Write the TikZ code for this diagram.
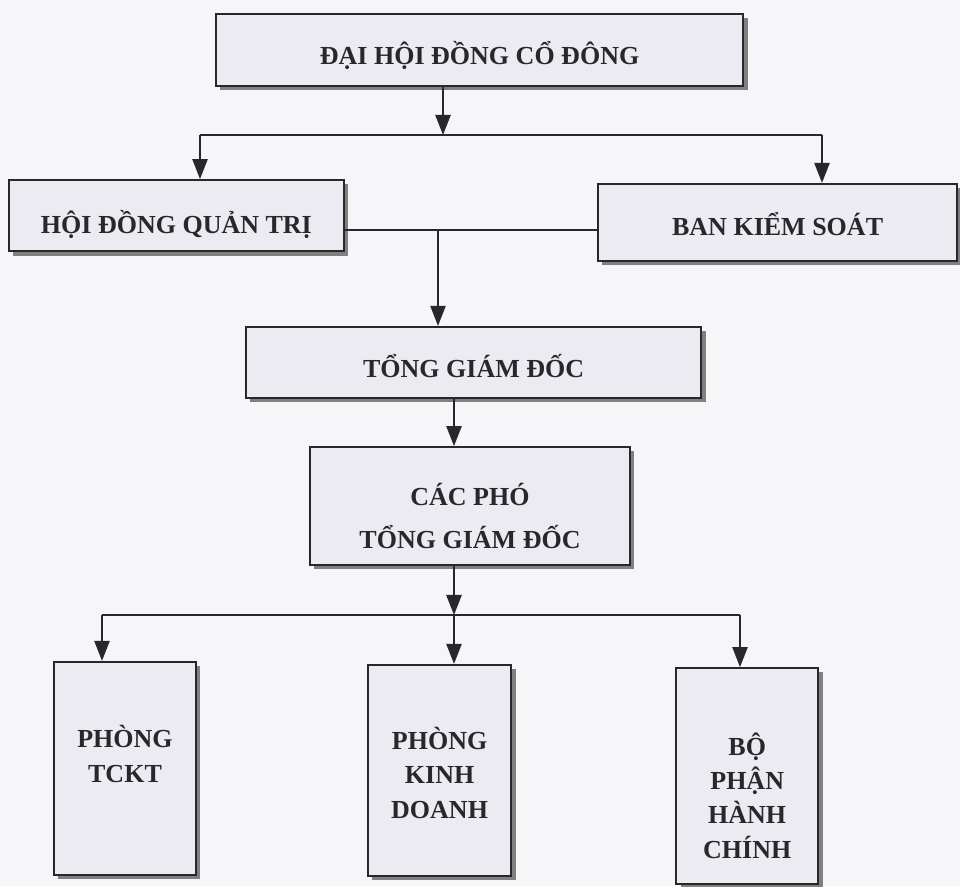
\documentclass[tikz,border=0pt]{standalone}
\usepackage{fontspec}
\setmainfont{Liberation Serif}
\usetikzlibrary{positioning}
\usetikzlibrary{arrows.meta}
\usetikzlibrary{shadows}
\definecolor{paper}{RGB}{246,246,248}
\definecolor{boxfill}{RGB}{236,235,242}
\definecolor{ink}{RGB}{40,40,44}
\tikzset{
box/.style={ % Sets the properties for each box
draw=ink,
line width=1.3pt,
fill=boxfill,
text=ink,
align=center,
inner sep=0pt,
font=\bfseries\fontsize{18.5}{24.5}\selectfont,
text height=0.74cm, text depth=0pt, % Puts the text a little below the middle
drop shadow={shadow xshift=0.11cm, shadow yshift=-0.11cm, fill=black!50, opacity=1}},
line/.style={ % Plain connector
draw=ink,
line width=1.3pt},
arr/.style={ % Connector with a filled head
line,
-{Triangle[length=0.5cm, width=0.38cm]}}}

\begin{document}
\begin{tikzpicture}
\fill[paper] (0,0) rectangle (24,22.15);
\useasboundingbox (0,0) rectangle (24,22.15);
% boxes
\node[box, minimum width=13.18cm, minimum height=1.80cm] (dhd) at (11.99,20.90) {ĐẠI HỘI ĐỒNG CỔ ĐÔNG};
\node[box, minimum width=8.38cm, minimum height=1.78cm, text height=0.88cm] (hdqt) at (4.41,16.76) {HỘI ĐỒNG QUẢN TRỊ};
\node[box, minimum width=8.98cm, minimum height=1.93cm, text height=0.68cm] (bks) at (19.44,16.59) {BAN KIỂM SOÁT};
\node[box, minimum width=11.38cm, minimum height=1.78cm] (tgd) at (11.84,13.09) {TỔNG GIÁM ĐỐC};
\node[box, minimum width=8.00cm, minimum height=2.95cm, text height=2.15cm, font=\bfseries\fontsize{18.5}{31.2}\selectfont] (cpt) at (11.75,9.50) {CÁC PHÓ\\TỔNG GIÁM ĐỐC};
\node[box, minimum width=3.55cm, minimum height=5.33cm, text height=0.69cm] (tckt) at (3.125,2.94) {PHÒNG\\TCKT};
\node[box, minimum width=3.58cm, minimum height=5.28cm, text height=2.40cm] (pkd) at (10.99,2.89) {PHÒNG\\KINH\\DOANH};
\node[box, minimum width=3.55cm, minimum height=5.40cm, text height=4.12cm] (bphc) at (18.68,2.75) {BỘ\\PHẬN\\HÀNH\\CHÍNH};
% junctions
\coordinate (j1) at (11.075,18.775);
\coordinate (jl) at (5.00,18.775);
\coordinate (jr) at (20.55,18.775);
\coordinate (j2) at (10.95,16.40);
\coordinate (j3) at (11.35,6.775);
\coordinate (jl2) at (2.55,6.775);
\coordinate (jr2) at (18.50,6.775);
% connectors
\draw[arr] (j1 |- dhd.south) -- (j1);
\draw[line] (jl) -- (jr);
\draw[arr] (jl) -- (jl |- hdqt.north);
\draw[arr] (jr) -- (jr |- bks.north);
\draw[line] (hdqt.east |- j2) -- (bks.west |- j2);
\draw[arr] (j2) -- (j2 |- tgd.north);
\draw[arr] (j3 |- tgd.south) -- (j3 |- cpt.north);
\draw[arr] (j3 |- cpt.south) -- (j3);
\draw[line] (jl2) -- (jr2);
\draw[arr] (jl2) -- (jl2 |- tckt.north);
\draw[arr] (j3) -- (j3 |- pkd.north);
\draw[arr] (jr2) -- (jr2 |- bphc.north);
\end{tikzpicture}
\end{document}
